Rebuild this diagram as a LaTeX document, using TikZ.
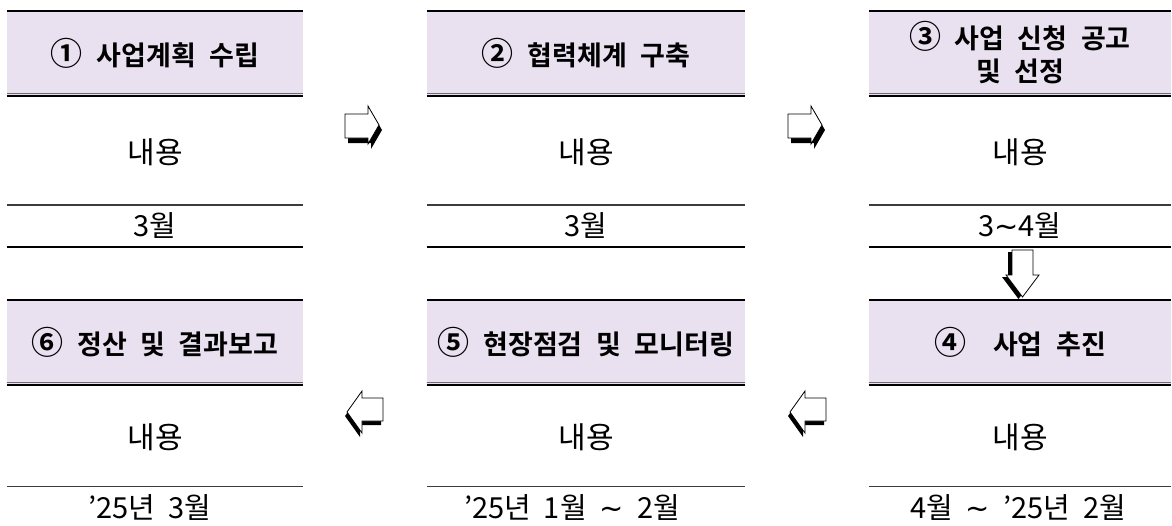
\documentclass[tikz,border=0pt]{standalone}
\usepackage{fontspec}
\setmainfont{Noto Sans CJK KR}
\newfontfamily\hfont{Noto Sans CJK KR Bold}
\newfontfamily\symfont{DejaVu Sans}
\definecolor{hdrfill}{RGB}{233,224,240}
\definecolor{rulegray}{RGB}{110,110,110}
\definecolor{rulethin}{RGB}{60,60,60}
\newcommand\gap{\hspace{0.5em}}
\newcommand\dgap{\hspace{0.45em}}
\newcommand\cn[1]{{\fontsize{32}{36}\selectfont #1}}
\newcommand\tl{{\symfont ∼}}
\tikzset{
  hdr/.style={fill=hdrfill, inner sep=0pt, minimum height=84pt, align=center,
    font=\hfont\fontsize{27}{36}\selectfont},
  body/.style={inner sep=0pt, font=\fontsize{30}{34}\selectfont},
  datef/.style={inner sep=0pt, font=\fontsize{29}{34}\selectfont},
  thickrule/.style={line width=2.6pt, black},
  grayrule/.style={line width=1.4pt, rulegray},
  blackrule/.style={line width=2pt, black},
  thinrule/.style={line width=1.2pt, rulethin},
  arrowface/.style={fill=white, draw=black, line width=0.8pt, line join=miter},
  rarrow/.pic={
    \fill[black] (3,5) -- (26,5) -- (26,-3) -- (37,16) -- (26,35) -- (26,29) -- (3,29) -- cycle;
    \path[arrowface] (0,0) -- (23,0) -- (23,-8) -- (34,11) -- (23,30) -- (23,24) -- (0,24) -- cycle;
  },
  larrow/.pic={
    \fill[black] (-2,4) -- (-23,4) -- (-23,-3) -- (-38,18) -- (-23,39) -- (-23,27) -- (-2,27) -- cycle;
    \path[arrowface] (0,0) -- (-21,0) -- (-21,-7) -- (-36,14) -- (-21,35) -- (-21,23) -- (0,23) -- cycle;
  },
  darrow/.pic={
    \fill[black] (-4,2) -- (17,2) -- (17,27) -- (23,27) -- (6.5,49) -- (-10,27) -- (-4,27) -- cycle;
    \path[arrowface] (0,0) -- (21,0) -- (21,25) -- (27,25) -- (10.5,47) -- (-6,25) -- (0,25) -- cycle;
  }
}
\begin{document}
\begin{tikzpicture}[x=1pt,y=-1pt]
\useasboundingbox (0,0) rectangle (1172,525);
\fill[white] (0,0) rectangle (1172,525);

% headers, row 1
\node[hdr, minimum width=296pt] (h1) at (155,53) {\cn{①}\gap 사업계획\gap 수립};
\node[hdr, minimum width=318pt] (h2) at (586,53) {\cn{②}\gap 협력체계\gap 구축};
\node[hdr, minimum width=302pt] (h3) at (1020,53) {\cn{③}\gap 사업\gap 신청\gap 공고\\[-3pt]및\gap 선정};
% headers, row 2
\node[hdr, minimum width=296pt] (h6) at (155,342) {\cn{⑥}\gap 정산\gap 및\gap 결과보고};
\node[hdr, minimum width=318pt] (h5) at (586,342) {\cn{⑤}\gap 현장점검\gap 및\gap 모니터링};
\node[hdr, minimum width=302pt] (h4) at (1020,342) {\cn{④}\gap\gap 사업\gap 추진};

% contents
\node[body] (c1) at (155,152) {내용};
\node[body] (c2) at (586,152) {내용};
\node[body] (c3) at (1020,152) {내용};
\node[body] (c6) at (155,437) {내용};
\node[body] (c5) at (586,437) {내용};
\node[body] (c4) at (1020,437) {내용};

% dates
\node[datef] (d1) at (155,226) {3월};
\node[datef] (d2) at (586,226) {3월};
\node[datef] (d3) at (1020,226) {3\tl 4월};
\node[datef] (d6) at (150,508) {’25년\dgap 3월};
\node[datef] (d5) at (572,508) {’25년\dgap 1월\dgap \tl\dgap 2월};
\node[datef] (d4) at (1018,508) {4월\dgap \tl\dgap ’25년\dgap 2월};

% rules, row 1
\foreach \n in {h1,h2,h3} {
  \draw[thickrule] (\n.west |- 0,11) -- (\n.east |- 0,11);
  \draw[grayrule] (\n.west |- 0,93.5) -- (\n.east |- 0,93.5);
  \draw[blackrule] (\n.west |- 0,96) -- (\n.east |- 0,96);
  \draw[thinrule] (\n.west |- 0,205) -- (\n.east |- 0,205);
  \draw[thickrule] (\n.west |- 0,247) -- (\n.east |- 0,247);
}
% rules, row 2
\foreach \n in {h6,h5,h4} {
  \draw[thickrule] (\n.west |- 0,300) -- (\n.east |- 0,300);
  \draw[grayrule] (\n.west |- 0,382.5) -- (\n.east |- 0,382.5);
  \draw[blackrule] (\n.west |- 0,385) -- (\n.east |- 0,385);
  \draw[thinrule] (\n.west |- 0,486.5) -- (\n.east |- 0,486.5);
}

% block arrows
\pic at (345,114) {rarrow};
\pic at (788,114) {rarrow};
\pic at (1012,250) {darrow};
\pic at (826,398) {larrow};
\pic at (383,398) {larrow};
\end{tikzpicture}
\end{document}
